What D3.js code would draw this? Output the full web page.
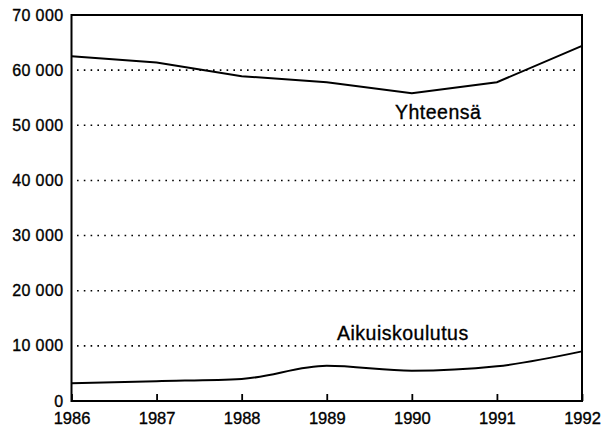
<!DOCTYPE html>
<html>
<head>
<meta charset="utf-8">
<script src="https://cdn.jsdelivr.net/npm/d3@7"></script>
<style>
  html, body { margin: 0; padding: 0; background: #fff; }
  svg text { font-family: "Liberation Sans", Arial, Helvetica, sans-serif; fill: #000; stroke: #000; stroke-width: 0.35px; }
</style>
</head>
<body>
<div id="chart"></div>
<script>
const years = [1986, 1987, 1988, 1989, 1990, 1991, 1992];
const yhteensa = [62500, 61400, 58900, 57800, 55800, 57800, 64400];
const aikuiskoulutus = [3200, 3600, 4000, 6400, 5500, 6300, 9000];
const yTicks = [0, 10000, 20000, 30000, 40000, 50000, 60000, 70000];
const gridValues = [10000, 20000, 30000, 40000, 50000, 60000];
const seriesLabels = ["Yhteensä", "Aikuiskoulutus"];

const W = 610, H = 426;
const svg = d3.select("#chart").append("svg").attr("width", W).attr("height", H);

const x = d3.scaleLinear().domain([1986, 1992]).range([71.5, 582]);
const y = d3.scaleLinear().domain([0, 70000]).range([401, 15]);

const fmt = v => v === 0 ? "0" : d3.format(",")(v).replace(/,/g, " ");

// dotted gridlines
svg.append("g").selectAll("line").data(gridValues).join("line")
  .attr("x1", 77).attr("x2", 580)
  .attr("y1", d => y(d)).attr("y2", d => y(d))
  .attr("stroke", "#000").attr("stroke-width", 1.6)
  .attr("stroke-dasharray", "1.6,5.2");

// frame
svg.append("rect")
  .attr("x", x(1986)).attr("y", y(70000))
  .attr("width", x(1992) - x(1986)).attr("height", y(0) - y(70000))
  .attr("fill", "none").attr("stroke", "#000").attr("stroke-width", 2);

// bottom axis (ticks inward)
const xAxis = d3.axisBottom(x).tickValues(years).tickFormat(d3.format("d"))
  .tickSizeInner(-7).tickSizeOuter(0).tickPadding(11);
const gx = svg.append("g").attr("transform", `translate(0,${y(0)})`).call(xAxis);
gx.select(".domain").remove();
gx.selectAll(".tick line").attr("stroke", "#000").attr("stroke-width", 1.8);
gx.selectAll(".tick text").attr("font-size", 16.5).attr("font-family", "Liberation Sans, Arial, sans-serif");

// left axis labels
const yAxis = d3.axisLeft(y).tickValues(yTicks).tickFormat(fmt).tickSize(0).tickPadding(8);
const gy = svg.append("g").attr("transform", `translate(${x(1986)},0)`).call(yAxis);
gy.select(".domain").remove();
gy.selectAll(".tick text").attr("font-size", 16).attr("letter-spacing", "0.4px")
  .attr("font-family", "Liberation Sans, Arial, sans-serif");

// lines
const lineLin = d3.line().x((d, i) => x(years[i])).y(d => y(d));
const lineSmooth = d3.line().x((d, i) => x(years[i])).y(d => y(d)).curve(d3.curveMonotoneX);

svg.append("path").datum(yhteensa).attr("d", lineLin)
  .attr("fill", "none").attr("stroke", "#000").attr("stroke-width", 2);
svg.append("path").datum(aikuiskoulutus).attr("d", lineSmooth)
  .attr("fill", "none").attr("stroke", "#000").attr("stroke-width", 2);

// series labels
svg.append("text").attr("x", 395).attr("y", 118.5)
  .attr("font-size", 19.5).attr("letter-spacing", "0.5px").text(seriesLabels[0]);
svg.append("text").attr("x", 337).attr("y", 340)
  .attr("font-size", 19.5).attr("letter-spacing", "0.5px").text(seriesLabels[1]);
</script>
</body>
</html>
